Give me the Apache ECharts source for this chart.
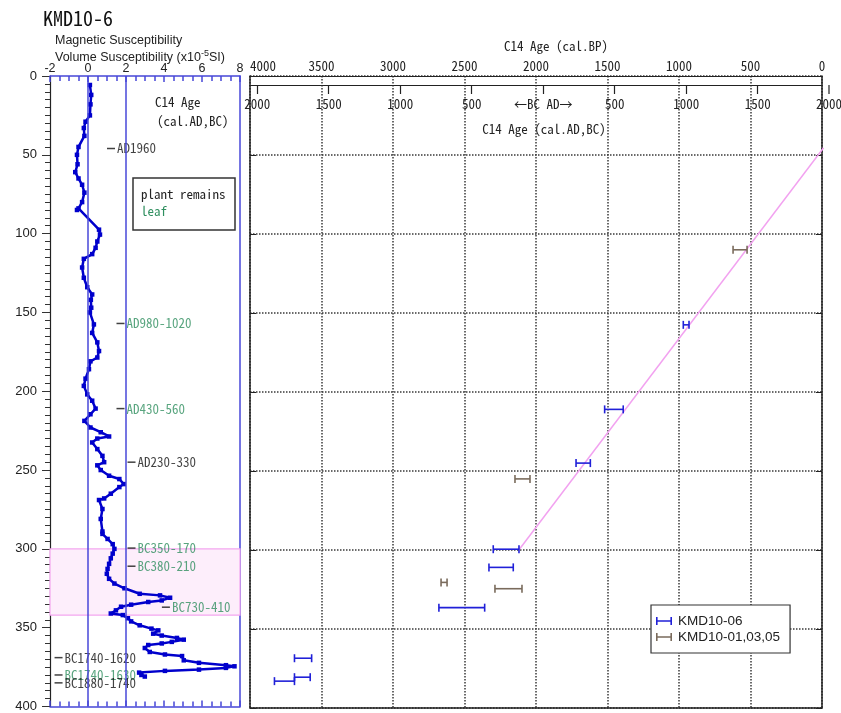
<!DOCTYPE html>
<html><head><meta charset="utf-8">
<script src="https://cdn.jsdelivr.net/npm/echarts@6/dist/echarts.min.js"></script>
<style>html,body{margin:0;padding:0;background:#fff}#c{width:841px;height:713px}</style>
</head><body><div id="c"></div>
<script>
// ---- Magnetic susceptibility profile (depth, value x10^-5 SI)
const magDepth = [5.7,12,18,25,29,33,38,45,50,56,61,65,69,74,80,84,85,97.5,100.6,105,109,113,116,121.5,128,134,138.6,142,147,150,157.6,163,169,174.5,178.6,181,186,192,196.6,202,206,211,214.6,218.8,223,226,228.7,230,232.5,236.7,241,245,247,250,253.6,255.7,258.9,260.8,265,268,269,274.7,281,289,290.5,293.7,297,300,303,306,309.5,312.7,315.8,319,322,325,328.5,329.5,331,332.7,333.7,335.4,336.7,339,341,342,344,346,348.5,350.6,351.7,353.8,355,356.5,357.6,359,360,361,362.9,365.4,367,368,370.7,372.3,373.8,374.5,375.5,376.6,377.4,378.5,380,381];
const magValue = [0.1,0.17,0.13,0.1,-0.13,-0.22,-0.19,-0.5,-0.58,-0.55,-0.67,-0.5,-0.31,-0.19,-0.31,-0.5,-0.58,0.58,0.63,0.49,0.4,0.22,-0.22,-0.31,-0.22,-0.04,0.22,0.15,0.17,0.1,0.31,0.22,0.49,0.58,0.49,0.13,0.05,-0.13,-0.22,-0.04,0.22,0.4,0.13,-0.19,0.13,0.67,1.11,0.49,0.22,0.49,0.76,0.85,0.49,0.67,1.11,1.65,1.88,1.65,1.2,0.85,0.58,0.76,0.67,0.76,0.76,1.03,1.3,1.39,1.3,1.2,1.11,1.03,0.99,1.11,1.39,1.92,2.72,3.79,4.32,3.88,3.17,2.27,1.74,1.47,1.2,1.83,2.1,2.27,2.72,3.34,3.7,3.43,3.88,4.68,5.04,4.41,3.88,3.17,2.99,3.25,4.05,4.95,5.04,5.84,7.26,7.71,7.26,5.84,4.05,2.69,2.81,2.99];

// ---- C14 age annotations in the left panel
const annoText  = ["AD1960","AD980-1020","AD430-560","AD230-330","BC350-170","BC380-210","BC730-410","BC1740-1620","BC1740-1630","BC1880-1740"];
const annoDepth = [46,157,211,245,299.5,311,337,369,380,385];
const annoX     = [1.21,1.71,1.71,2.29,2.29,2.29,4.1,-1.55,-1.55,-1.55];
const annoLeaf  = [false,true,true,false,true,true,true,false,true,false];

// ---- C14 calibrated ages (cal BP ranges) vs depth
const kmd06From  = [970,1520,1720,2299,2329,2679,3689,3689,3829];
const kmd06To    = [930,1390,1620,2119,2159,2359,3569,3579,3689];
const kmd06Depth = [157.5,211,245,299.5,311,336.5,368.5,380.5,383];
const kmdOFrom   = [622,2147,2664,2287];
const kmdOTo     = [524,2042,2622,2098];
const kmdODepth  = [110,255,320.5,324.5];

// ---- age-depth model line (cal BP, depth)
const modelBP    = [-10,2120];
const modelDepth = [45.5,300];

// ---- axis tick labels
const bcadTicks = [-2000,-1500,-1000,-500,0,500,1000,1500];

const MONO = '"Noto Sans Mono CJK JP","Noto Sans Mono CJK SC","DejaVu Sans Mono",monospace';
const SANS = '"Liberation Sans","Noto Sans",Arial,sans-serif';
const FRAME_BLUE = '#4747d8';
const CURVE_BLUE = '#0000cc';
const GREEN = '#2f8f5f';
const GRIDLINE = {show:true, lineStyle:{color:'#3a3a3a', width:1.5, type:[1.5,1.5]}};

const chart = echarts.init(document.getElementById('c'));

function errBar(color){
  return function(params, api){
    const p1 = api.coord([api.value(0), api.value(2)]);
    const p2 = api.coord([api.value(1), api.value(2)]);
    const h = 4;
    const st = {stroke: color, lineWidth: 1.6};
    return {type:'group', children:[
      {type:'line', shape:{x1:p1[0],y1:p1[1],x2:p2[0],y2:p2[1]}, style:st},
      {type:'line', shape:{x1:p1[0],y1:p1[1]-h,x2:p1[0],y2:p1[1]+h}, style:st},
      {type:'line', shape:{x1:p2[0],y1:p2[1]-h,x2:p2[0],y2:p2[1]+h}, style:st}
    ]};
  };
}
const ICON = 'path://M0,0H2V10H0Z M2,4.2H18V5.8H2Z M18,0H20V10H18Z';

const option = {
  animation:false,
  backgroundColor:'#fff',
  grid:[
    {left:50, top:76, width:190, height:632},
    {left:250, top:76, width:572, height:632}
  ],
  xAxis:[
    {gridIndex:0, type:'value', min:-2, max:8, interval:2, position:'top',
     axisLine:{onZero:false, lineStyle:{color:FRAME_BLUE, width:1.5}},
     axisTick:{inside:true, length:6, lineStyle:{color:FRAME_BLUE, width:1.5}},
     minorTick:{show:true, splitNumber:4, length:5, lineStyle:{color:FRAME_BLUE, width:1.5}},
     axisLabel:{color:'#222', fontSize:12.5, margin:1, fontFamily:SANS},
     splitLine:{show:false}},
    {gridIndex:0, type:'value', min:-2, max:8, interval:2, position:'bottom',
     axisLine:{onZero:false, lineStyle:{color:FRAME_BLUE, width:1.5}},
     axisTick:{inside:true, length:6, lineStyle:{color:FRAME_BLUE, width:1.5}},
     minorTick:{show:true, splitNumber:4, length:5, lineStyle:{color:FRAME_BLUE, width:1.5}},
     axisLabel:{show:false}, splitLine:{show:false}},
    {gridIndex:1, type:'value', min:0, max:4000, interval:500, inverse:true, position:'top',
     axisLine:{onZero:false, lineStyle:{color:'#222', width:1.2}},
     axisTick:{show:false},
     axisLabel:{color:'#222', fontSize:13, margin:3, fontFamily:MONO, alignMaxLabel:'left',
       formatter:v => String(v)},
     splitLine:GRIDLINE},
    {gridIndex:1, type:'value', min:-2050, max:1950, position:'top', offset:-9,
     axisLine:{onZero:false, lineStyle:{color:'#222', width:1.2}},
     axisTick:{inside:true, length:9, customValues:bcadTicks, lineStyle:{color:'#222', width:1.2}},
     axisLabel:{inside:true, margin:13, color:'#222', fontSize:13, fontFamily:MONO, customValues:bcadTicks,
       formatter:v => v === 0 ? '←BC AD→' : String(Math.abs(v))},
     splitLine:{show:false}},
    {gridIndex:1, type:'value', min:0, max:4000, inverse:true, position:'bottom',
     axisLine:{onZero:false, lineStyle:{color:'#222', width:1.5}},
     axisTick:{show:false}, axisLabel:{show:false}, splitLine:{show:false}}
  ],
  yAxis:[
    {gridIndex:0, type:'value', min:0, max:400, interval:50, inverse:true,
     axisLine:{onZero:false, lineStyle:{color:'#222', width:1.2}},
     axisTick:{inside:false, length:8, lineStyle:{color:'#333'}},
     minorTick:{show:true, splitNumber:10, length:5, lineStyle:{color:'#333'}},
     axisLabel:{color:'#222', fontSize:13, margin:13, fontFamily:SANS},
     splitLine:{show:false}},
    {gridIndex:0, type:'value', min:0, max:400, inverse:true, position:'right',
     axisLine:{onZero:false, lineStyle:{color:FRAME_BLUE, width:1.5}},
     axisTick:{show:false}, axisLabel:{show:false}, splitLine:{show:false}},
    {gridIndex:1, type:'value', min:0, max:400, interval:50, inverse:true,
     axisLine:{onZero:false, lineStyle:{color:'#222', width:1.5}},
     axisTick:{inside:true, length:6, lineStyle:{color:'#222'}},
     axisLabel:{show:false}, splitLine:GRIDLINE},
    {gridIndex:1, type:'value', min:0, max:400, interval:50, inverse:true, position:'right',
     axisLine:{onZero:false, lineStyle:{color:'#222', width:1.5}},
     axisTick:{inside:true, length:6, lineStyle:{color:'#222'}},
     axisLabel:{show:false}, splitLine:{show:false}}
  ],
  legend:{
    left:651, top:605, orient:'vertical', itemGap:2, itemWidth:18, itemHeight:8,
    padding:[9,10,9,5], borderColor:'#333', borderWidth:1.2, backgroundColor:'#fff',
    textStyle:{fontFamily:SANS, fontSize:13.5, color:'#222'},
    data:[{name:'KMD10-06', icon:ICON},{name:'KMD10-01,03,05', icon:ICON}]
  },
  series:[
    {type:'line', xAxisIndex:0, yAxisIndex:0, z:1, data:[], silent:true,
     markArea:{silent:true, itemStyle:{color:'#fdeefb', borderColor:'#f3a6ef', borderWidth:1.2},
       data:[[{yAxis:300},{yAxis:342}]]},
     markLine:{silent:true, symbol:'none', label:{show:false},
       lineStyle:{color:FRAME_BLUE, width:1.5, type:'solid'},
       data:[{xAxis:0},{xAxis:2}]}},
    {type:'line', xAxisIndex:0, yAxisIndex:0, z:3,
     data: magDepth.map((d,i)=>[magValue[i], d]),
     symbol:'rect', symbolSize:4.5, showSymbol:true,
     lineStyle:{color:CURVE_BLUE, width:2.5}, itemStyle:{color:CURVE_BLUE}},
    {type:'scatter', xAxisIndex:0, yAxisIndex:0, z:4,
     symbol:'rect', symbolSize:[8,1.5], itemStyle:{color:'#111'},
     data: annoText.map((t,i)=>({value:[annoX[i], annoDepth[i]],
       label:{show:true, position:'right', distance:2, formatter:t,
         color: annoLeaf[i] ? GREEN : '#111', fontFamily:MONO, fontSize:13}}))},
    {type:'line', xAxisIndex:2, yAxisIndex:2, z:2, symbol:'none',
     data: modelBP.map((b,i)=>[b, modelDepth[i]]),
     lineStyle:{color:'#f2a2f0', width:1.5}},
    {type:'custom', name:'KMD10-06', xAxisIndex:2, yAxisIndex:2, z:5,
     itemStyle:{color:'#2020d8'}, renderItem: errBar('#2020d8'),
     data: kmd06From.map((f,i)=>[f, kmd06To[i], kmd06Depth[i]])},
    {type:'custom', name:'KMD10-01,03,05', xAxisIndex:2, yAxisIndex:2, z:5,
     itemStyle:{color:'#7a6b5c'}, renderItem: errBar('#7a6b5c'),
     data: kmdOFrom.map((f,i)=>[f, kmdOTo[i], kmdODepth[i]])}
  ],
  graphic:[
    {type:'text', left:43, top:8, style:{text:'KMD10-6', font:'20px '+MONO, fill:'#111'}},
    {type:'text', left:55, top:34, style:{text:'Magnetic Susceptibility', font:'12.5px '+SANS, fill:'#222'}},
    {type:'text', left:55, top:49, style:{text:'{a|Volume Susceptibility (x10}{s|-5}{a|SI)}', fill:'#222',
      rich:{a:{fontSize:12.5, fontFamily:SANS, verticalAlign:'bottom'}, s:{fontSize:9, fontFamily:SANS, verticalAlign:'top', padding:[0,0,6,0]}}}},
    {type:'text', left:155, top:96, style:{text:'C14 Age', font:'13px '+MONO, fill:'#222'}},
    {type:'text', left:157, top:115, style:{text:'(cal.AD,BC)', font:'13px '+MONO, fill:'#222'}},
    {type:'rect', shape:{x:133, y:178, width:102, height:52}, style:{fill:'#fff', stroke:'#333', lineWidth:1.5}},
    {type:'text', left:141, top:188, style:{text:'plant remains', font:'13px '+MONO, fill:'#222'}},
    {type:'text', left:141, top:205, style:{text:'leaf', font:'13px '+MONO, fill:GREEN}},
    {type:'text', x:556, y:46, style:{text:'C14 Age (cal.BP)', font:'13px '+MONO, fill:'#222', align:'center', verticalAlign:'middle'}},
    {type:'text', x:544, y:129, style:{text:'C14 Age (cal.AD,BC)', font:'13px '+MONO, fill:'#222', align:'center', verticalAlign:'middle'}},
    {type:'line', shape:{x1:829, y1:85, x2:829, y2:94}, style:{stroke:'#222', lineWidth:1.2}},
    {type:'text', x:829, y:104, style:{text:'2000', font:'13px '+MONO, fill:'#222', align:'center', verticalAlign:'middle'}}
  ]
};
chart.setOption(option);
</script>
</body></html>
